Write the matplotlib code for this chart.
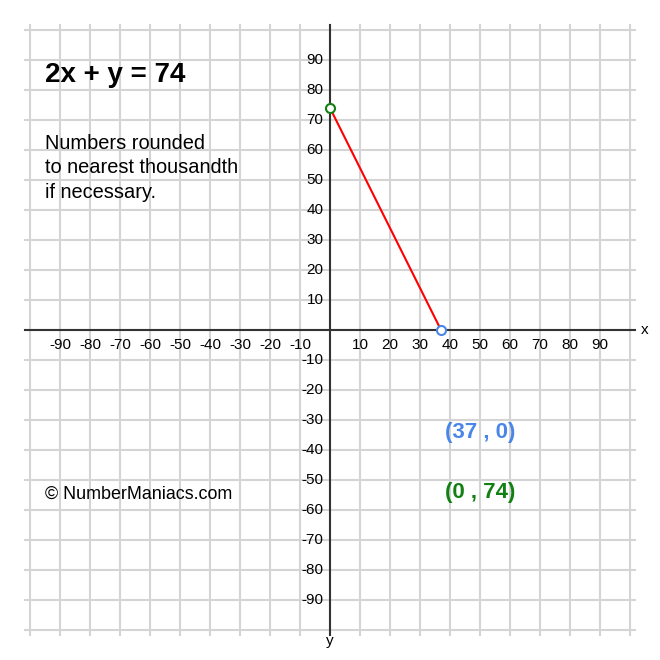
import matplotlib
matplotlib.use("Agg")
import matplotlib.pyplot as plt
import numpy as np

plt.rcParams['font.family'] = ['Liberation Sans', 'DejaVu Sans']

# equation 2x + y = 74 and its intercepts
equation = "2x + y = 74"
x_pts = [37, 0]
y_pts = [0, 74]
pt_colors = ["#4a86e8", "#138013"]
ticks = [v for v in range(-90, 100, 10) if v != 0]
grid_vals = list(range(-100, 110, 10))

fig = plt.figure(figsize=(6.6, 6.6), dpi=100)
ax = fig.add_axes([0, 0, 1, 1])
ax.set_xlim(-110, 110)
ax.set_ylim(-110, 110)
ax.axis("off")

ext = 101.7
grid_kw = dict(color="#d4d4d4", lw=1.5, zorder=1)
for g in grid_vals:
    ax.plot([g, g], [-ext, ext], **grid_kw)
    ax.plot([-ext, ext], [g, g], **grid_kw)

# axes
ax.plot([-ext, ext], [0, 0], color="#333333", lw=1.5, zorder=2)
ax.plot([0, 0], [-ext, ext], color="#333333", lw=1.5, zorder=2)
ax.text(105, 0, "x", fontsize=11, ha="center", va="center")
ax.text(0, -103.5, "y", fontsize=11, ha="center", va="center")

for t in ticks:
    ax.text(t, -5, str(t), fontsize=11, ha="center", va="center", zorder=3)
    ax.text(-2.2, t, str(t), fontsize=11, ha="right", va="center", zorder=3)

# the line
ax.plot(x_pts, y_pts, color="red", lw=1.5, zorder=4)
for x, y, c in zip(x_pts, y_pts, pt_colors):
    ax.plot(x, y, "o", ms=6.5, mfc="white", mec=c, mew=1.5, zorder=5)

ax.text(-95, 85, equation, fontsize=20, fontweight="bold", ha="left", va="center")
notes = ["Numbers rounded", "to nearest thousandth", "if necessary."]
for i, line in enumerate(notes):
    ax.text(-95, 62.3 - i * 8.2, line, fontsize=14.4, ha="left", va="center")
ax.text(-95, -54.7, "\u00a9 NumberManiacs.com", fontsize=12.9, ha="left", va="center")

ax.text(50, -34.3, "(%d , %d)" % (x_pts[0], y_pts[0]), fontsize=16, fontweight="bold",
        color=pt_colors[0], ha="center", va="center")
ax.text(50, -54.3, "(%d , %d)" % (x_pts[1], y_pts[1]), fontsize=16, fontweight="bold",
        color=pt_colors[1], ha="center", va="center")

fig.savefig("out.png", dpi=100, facecolor="white")
